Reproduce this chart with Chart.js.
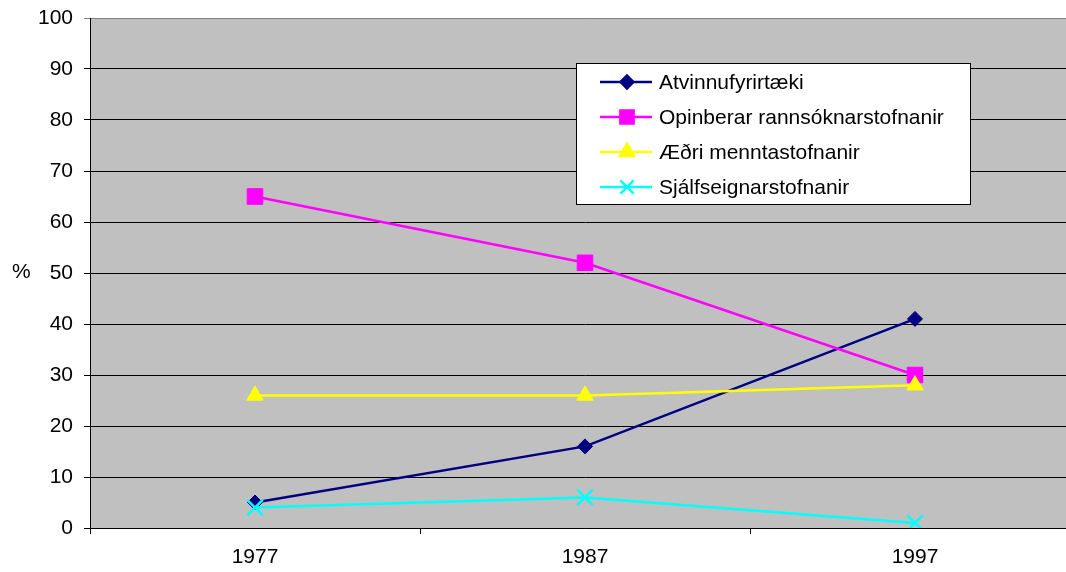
<!DOCTYPE html>
<html>
<head>
<meta charset="utf-8">
<script src="https://cdn.jsdelivr.net/npm/chart.js@4"></script>
<style>
  body { margin: 0; background: #fff; overflow: hidden; }
  .wrap { width: 1100px; height: 572px; position: relative; }
</style>
</head>
<body>
<div class="wrap"><canvas id="chart"></canvas></div>
<script>
  // categories and series (%)
  const years = ["1977", "1987", "1997"];
  const atvinnufyrirtaeki = [5, 16, 41];
  const opinberar = [65, 52, 30];
  const aedri = [26, 26, 28];
  const sjalfseignar = [4, 6, 1];
  const yTicks = [0, 10, 20, 30, 40, 50, 60, 70, 80, 90, 100];

  const FONT = "'Liberation Sans', Arial, sans-serif";

  // grey plot area background
  const plotBackground = {
    id: "plotBackground",
    beforeDraw(chart) {
      const { ctx, chartArea: a } = chart;
      ctx.save();
      ctx.fillStyle = "#c0c0c0";
      ctx.fillRect(a.left, a.top, a.right - a.left, a.bottom - a.top);
      ctx.restore();
    },
  };

  // "%" label and the boxed legend inside the plot
  const extras = {
    id: "extras",
    afterDraw(chart) {
      const ctx = chart.ctx;
      ctx.save();
      ctx.font = "21px " + FONT;
      ctx.fillStyle = "#000";
      ctx.textBaseline = "middle";
      ctx.textAlign = "left";
      ctx.fillText("%", 12, 272);

      // legend box
      ctx.fillStyle = "#fff";
      ctx.fillRect(576, 63, 394, 141);
      ctx.strokeStyle = "#000";
      ctx.lineWidth = 1;
      ctx.strokeRect(576.5, 63.5, 394, 141);

      const rowY = [82, 117, 152, 187];
      chart.data.datasets.forEach((ds, i) => {
        const y = rowY[i];
        ctx.strokeStyle = ds.borderColor;
        ctx.lineWidth = ds.borderWidth;
        ctx.beginPath();
        ctx.moveTo(600, y);
        ctx.lineTo(652, y);
        ctx.stroke();
        ctx.fillStyle = ds.backgroundColor;
        ctx.strokeStyle = ds.borderColor;
        Chart.helpers.drawPoint(ctx, {
          pointStyle: ds.pointStyle,
          radius: ds.pointRadius * 0.85,
          rotation: 0,
          borderWidth: ds.pointBorderWidth,
        }, 627, y);
        ctx.fillStyle = "#000";
        ctx.fillText(ds.label, 659, y + 1);
      });
      ctx.restore();
    },
  };

  const ctx = document.getElementById("chart").getContext("2d");

  new Chart(ctx, {
    type: "line",
    data: {
      labels: years,
      datasets: [
        {
          label: "Atvinnufyrirtæki",
          data: atvinnufyrirtaeki,
          borderColor: "#000080",
          backgroundColor: "#000080",
          borderWidth: 2.5,
          pointStyle: "rectRot",
          pointRadius: 7.5,
          pointBorderWidth: 1,
          order: 4,
        },
        {
          label: "Opinberar rannsóknarstofnanir",
          data: opinberar,
          borderColor: "#ff00ff",
          backgroundColor: "#ff00ff",
          borderWidth: 2.5,
          pointStyle: "rect",
          pointRadius: 11,
          pointBorderWidth: 1,
          order: 3,
        },
        {
          label: "Æðri menntastofnanir",
          data: aedri,
          borderColor: "#ffff00",
          backgroundColor: "#ffff00",
          borderWidth: 2.5,
          pointStyle: "triangle",
          pointRadius: 9.5,
          pointBorderWidth: 1,
          order: 2,
        },
        {
          label: "Sjálfseignarstofnanir",
          data: sjalfseignar,
          borderColor: "#00ffff",
          backgroundColor: "#00ffff",
          borderWidth: 2.5,
          pointStyle: "crossRot",
          pointRadius: 11,
          pointBorderWidth: 2.5,
          order: 1,
        },
      ],
    },
    options: {
      responsive: true,
      maintainAspectRatio: false,
      animation: false,
      layout: { padding: { top: 18, right: 20, left: 0, bottom: 0 } },
      plugins: {
        legend: { display: false },
        tooltip: { enabled: false },
      },
      scales: {
        x: {
          offset: true,
          afterFit(scale) {
            scale.height = 44;
          },
          grid: {
            offset: true,
            drawOnChartArea: false,
            tickLength: 6,
            color: "#000",
          },
          border: { color: "#000", width: 1 },
          ticks: {
            padding: 11,
            maxRotation: 0,
            color: "#000",
            font: { family: FONT, size: 21 },
          },
        },
        y: {
          min: 0,
          max: 100,
          afterFit(scale) {
            scale.width = 90;
            scale.paddingTop = 0;
            scale.paddingBottom = 0;
          },
          afterBuildTicks(scale) {
            scale.ticks = yTicks.map((v) => ({ value: v }));
          },
          grid: {
            tickLength: 6,
            color: (c) => (c.tick && c.tick.value === 100 ? "#808080" : "#000"),
          },
          border: { color: "#000", width: 1 },
          ticks: {
            padding: 11,
            color: "#000",
            font: { family: FONT, size: 21 },
          },
        },
      },
    },
    plugins: [plotBackground, extras],
  });
</script>
</body>
</html>
